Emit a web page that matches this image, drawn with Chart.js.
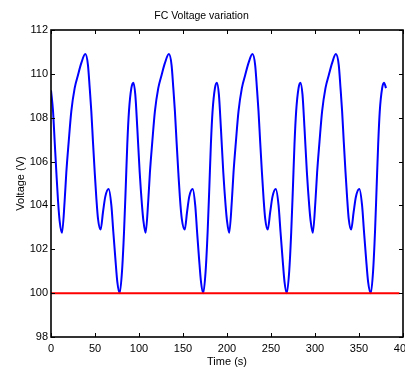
<!DOCTYPE html>
<html>
<head>
<meta charset="utf-8">
<title>FC Voltage variation</title>
<script src="https://cdn.jsdelivr.net/npm/chart.js@4.4.0/dist/chart.umd.min.js"></script>
<style>
  html, body { margin: 0; padding: 0; background: #fff; overflow: hidden; }
  #wrap { width: 420px; height: 369px; }
</style>
</head>
<body>
<div id="wrap"><canvas id="fcChart" width="420" height="369"></canvas></div>
<script>
// Time samples (s), one cycle per row
const timeS = [
  0, 2.3, 4.2, 6.1, 8.0, 9.8,
  12.5, 15.5, 17.4, 20.1, 23.1, 26.9, 30.7, 34.5, 39.0, 42.0, 44.0, 45.8, 47.7, 49.7, 51.5, 53.4, 56.4, 59.1, 61.7, 65.5, 68.6, 70.8, 73.1, 75.4, 78.0, 80.7, 83.0, 84.9, 86.7, 88.6, 91.3, 93.6, 95.8, 98.1, 100.8, 103.4, 105.0,
  107.5, 110.5, 112.4, 115.1, 118.1, 121.9, 125.7, 129.5, 134.0, 137.0, 139.0, 140.8, 142.7, 144.7, 146.5, 148.6, 152.0, 154.6, 157.1, 161.0, 163.9, 166.0, 168.2, 170.5, 173.0, 175.7, 178.0, 179.9, 181.7, 183.6, 186.3, 188.5, 190.8, 193.1, 195.8, 198.4, 200.0,
  202.5, 205.5, 207.4, 210.1, 213.1, 216.9, 220.7, 224.5, 228.9, 232.0, 234.0, 235.8, 237.7, 239.7, 241.5, 243.4, 246.3, 249.1, 251.7, 255.4, 258.6, 260.8, 263.1, 265.4, 267.9, 270.7, 273.0, 274.9, 276.7, 278.6, 281.3, 283.4, 285.8, 288.1, 290.8, 293.4, 295.0,
  297.5, 300.5, 302.4, 305.1, 308.1, 311.9, 315.7, 319.5, 323.7, 327.0, 329.0, 330.8, 332.7, 334.7, 336.5, 338.3, 341.1, 343.9, 346.5, 350.4, 353.5, 355.7, 358.0, 360.4, 363.4, 366.0, 368.2, 370.0, 371.8, 373.6, 376.3, 378.4, 380.7
];

// FC output voltage (V) at the samples above
const fcVoltage = [
  109.25, 108.3, 106.9, 105.5, 104.2, 103.3,
  102.75, 104.2, 105.5, 106.9, 108.3, 109.35, 109.95, 110.5, 110.9, 110.4, 109.35, 108.3, 106.9, 105.5, 104.35, 103.4, 102.9, 103.7, 104.4, 104.75, 104.0, 102.8, 101.6, 100.5, 100.0, 101.0, 102.8, 104.8, 106.8, 108.3, 109.35, 109.6, 109.05, 107.5, 105.5, 104.0, 103.3,
  102.75, 104.2, 105.5, 106.9, 108.3, 109.35, 109.95, 110.5, 110.9, 110.4, 109.35, 108.3, 106.9, 105.5, 104.35, 103.4, 102.9, 103.7, 104.4, 104.75, 104.0, 102.8, 101.6, 100.5, 100.0, 101.0, 102.8, 104.8, 106.8, 108.3, 109.35, 109.6, 109.05, 107.5, 105.5, 104.0, 103.3,
  102.75, 104.2, 105.5, 106.9, 108.3, 109.35, 109.95, 110.5, 110.9, 110.4, 109.35, 108.3, 106.9, 105.5, 104.35, 103.4, 102.9, 103.7, 104.4, 104.75, 104.0, 102.8, 101.6, 100.5, 100.0, 101.0, 102.8, 104.8, 106.8, 108.3, 109.35, 109.6, 109.05, 107.5, 105.5, 104.0, 103.3,
  102.75, 104.2, 105.5, 106.9, 108.3, 109.35, 109.95, 110.5, 110.9, 110.4, 109.35, 108.3, 106.9, 105.5, 104.35, 103.4, 102.9, 103.7, 104.4, 104.75, 104.0, 102.8, 101.6, 100.5, 100.0, 101.0, 102.8, 104.8, 106.8, 108.3, 109.35, 109.6, 109.35
];

// reference (red) line
const refTime = [0, 396];
const refVoltage = [100, 100];

const xTicks = [0, 50, 100, 150, 200, 250, 300, 350, 400];
const yTicks = [98, 100, 102, 104, 106, 108, 110, 112];

const toPoints = (xs, ys) => xs.map((t, i) => ({ x: t, y: ys[i] }));

Chart.defaults.font.family = "'Liberation Sans', Arial, sans-serif";
Chart.defaults.font.size = 11;
Chart.defaults.color = '#000';

// matlab style box with inward ticks on all four sides
const boxPlugin = {
    id: 'boxAxes',
    afterDraw(chart) {
        const { ctx, chartArea: a, scales } = chart;
        const tickLen = 4;
        ctx.save();
        ctx.strokeStyle = '#000';
        ctx.lineWidth = 1;
        ctx.beginPath();
        xTicks.forEach(v => {
            const px = Math.round(scales.x.getPixelForValue(v)) + 0.5;
            ctx.moveTo(px, a.bottom); ctx.lineTo(px, a.bottom - tickLen);
            ctx.moveTo(px, a.top); ctx.lineTo(px, a.top + tickLen);
        });
        yTicks.forEach(v => {
            const py = Math.round(scales.y.getPixelForValue(v)) + 0.5;
            ctx.moveTo(a.left, py); ctx.lineTo(a.left + tickLen, py);
            ctx.moveTo(a.right, py); ctx.lineTo(a.right - tickLen, py);
        });
        ctx.stroke();
        ctx.lineWidth = 1.6;
        ctx.strokeRect(a.left, a.top, a.right - a.left, a.bottom - a.top);
        ctx.restore();
    }
};

new Chart(document.getElementById('fcChart'), {
    type: 'line',
    data: {
        datasets: [
            {
                label: 'Reference',
                data: toPoints(refTime, refVoltage),
                borderColor: '#ff0000',
                borderWidth: 2,
                pointRadius: 0,
                fill: false
            },
            {
                label: 'FC voltage',
                data: toPoints(timeS, fcVoltage),
                borderColor: '#0000ff',
                borderWidth: 2,
                pointRadius: 0,
                fill: false,
                cubicInterpolationMode: 'monotone'
            }
        ]
    },
    options: {
        responsive: false,
        animation: false,
        devicePixelRatio: 1,
        layout: { padding: { left: 0, right: 17, top: 0, bottom: 0 } },
        plugins: {
            legend: { display: false },
            tooltip: { enabled: false },
            title: {
                display: true,
                text: 'FC Voltage variation',
                color: '#000',
                font: { size: 10.5, weight: 'normal' },
                padding: { top: 10, bottom: 7.4 }
            }
        },
        scales: {
            x: {
                type: 'linear',
                min: 0,
                max: 400,
                afterBuildTicks: scale => { scale.ticks = xTicks.map(v => ({ value: v })); },
                afterFit: scale => { scale.height = 32; },
                grid: { display: false, drawTicks: false },
                border: { display: false },
                ticks: { padding: 5, maxRotation: 0, autoSkip: false },
                title: { display: true, text: 'Time (s)', padding: 0, font: { size: 11 } }
            },
            y: {
                type: 'linear',
                min: 98,
                max: 112,
                afterBuildTicks: scale => { scale.ticks = yTicks.map(v => ({ value: v })); },
                afterFit: scale => { scale.width = 51; },
                grid: { display: false, drawTicks: false },
                border: { display: false },
                ticks: { padding: 3, autoSkip: false },
                title: { display: true, text: 'Voltage (V)', padding: { top: 14, bottom: 0 }, font: { size: 11 } }
            }
        }
    },
    plugins: [boxPlugin]
});
</script>
</body>
</html>
